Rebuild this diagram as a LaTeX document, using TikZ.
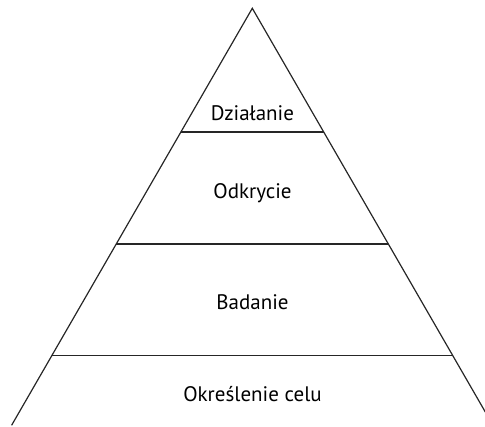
\documentclass[tikz,border=0pt]{standalone}
\usepackage{fontspec}
\setmainfont{PT Sans}
\begin{document}
\begin{tikzpicture}[x=1pt,y=-1pt,
  edge/.style={line width=1.2pt,black!85},
  lbl/.style={font=\fontsize{21}{24}\selectfont,text=black,inner sep=0pt,anchor=base}]
\useasboundingbox (0,0) rectangle (485,427);
\clip (0,0) rectangle (485,427);
\coordinate (apex) at (252.3,8.3);
\path (apex) ++(-240.7,417) coordinate (bl);
\path (apex) ++(240.7,417) coordinate (br);
\draw[edge] (bl) -- (apex) -- (br);
\foreach \y/\n in {132/a,244/b,355.5/c}{
  \pgfmathsetmacro{\dx}{(\y-8.3)*0.5773}
  \coordinate (l\n) at (252.3-\dx,\y);
  \coordinate (r\n) at (252.3+\dx,\y);
  \draw[edge,line width=1.1pt] (l\n) -- (r\n);
}
\node[lbl] (t1) at (252.5,121) {Działanie};
\node[lbl] (t2) at (252.5,199) {Odkrycie};
\node[lbl] (t3) at (252.5,310) {Badanie};
\node[lbl] (t4) at (252.5,402) {Określenie celu};
\end{tikzpicture}
\end{document}
